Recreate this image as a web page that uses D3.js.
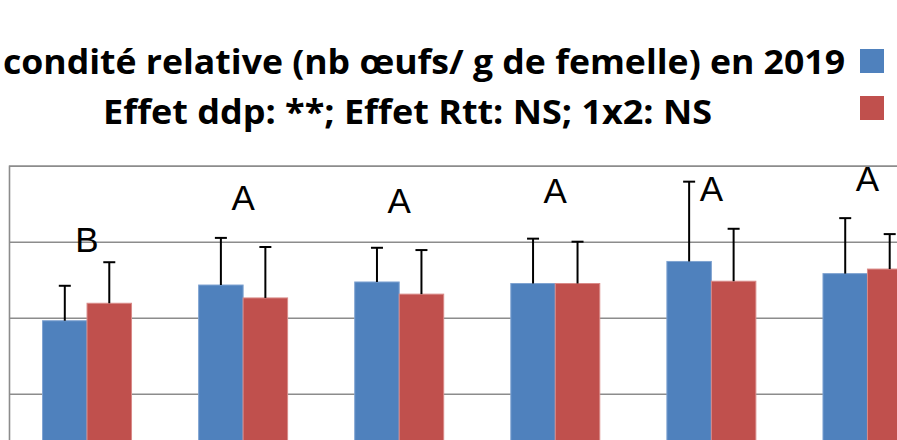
<!DOCTYPE html>
<html>
<head>
<meta charset="utf-8">
<script src="https://cdn.jsdelivr.net/npm/d3@7"></script>
<style>
  body { margin: 0; background: #fff; }
  svg { display: block; }
</style>
</head>
<body>
<div id="chart"></div>
<script>
// data (arbitrary units, gridline every 100)
var categories = ["T1", "T2", "T3", "T4", "T5", "T6"];
var seriesKeys = ["s1", "s2"];
var blueVals = [196, 243, 247, 245, 274, 258];
var redVals  = [219, 226, 231, 245, 248, 264];
var blueErr  = [46, 62, 45, 59, 105, 73];
var redErr   = [54, 67, 58, 55, 69, 46];
var letters  = ["B", "A", "A", "A", "A", "A"];
var letterVal = [286, 342, 338, 351, 353, 367];
var yTicks = [0, 100, 200, 300, 400];
var titleLines = ["condité relative (nb œufs/ g de femelle) en 2019",
                  "Effet ddp: **; Effet Rtt: NS; 1x2: NS"];

var colors = { s1: "#4F81BD", s2: "#C0504D" };
var edges  = { s1: "#7fa3d1", s2: "#d98a88" };

var W = 897, H = 440;
var svg = d3.select("#chart").append("svg")
  .attr("width", W).attr("height", H);

// the picture is a crop: plot starts at x=9 and runs past the right edge
var x0 = d3.scaleBand().domain(categories)
  .range([9, 945.5]).paddingInner(0.43).paddingOuter(0.215);
var x1 = d3.scaleBand().domain(seriesKeys).range([0, x0.bandwidth()]);
var y = d3.scaleLinear().domain([0, 400]).range([469.7, 165.7]);

// gridlines
svg.append("g")
  .attr("class", "grid")
  .attr("transform", "translate(9,0)")
  .call(d3.axisLeft(y).tickValues(yTicks).tickSize(-(945.5 - 9)).tickFormat(""))
  .call(function(g) {
    g.selectAll(".tick line").attr("stroke", "#8c8c8c").attr("stroke-width", 1.6);
    g.select(".domain").attr("stroke", "#8c8c8c").attr("stroke-width", 1.6);
  });

var rows = categories.map(function(c, i) {
  return { cat: c, i: i, vals: [
    { key: "s1", v: blueVals[i], e: blueErr[i] },
    { key: "s2", v: redVals[i],  e: redErr[i] }
  ]};
});

var grp = svg.selectAll(".grp").data(rows).enter().append("g")
  .attr("class", "grp")
  .attr("transform", function(d) { return "translate(" + x0(d.cat) + ",0)"; });

grp.selectAll("rect").data(function(d) { return d.vals; }).enter().append("rect")
  .attr("x", function(d) { return x1(d.key); })
  .attr("y", function(d) { return y(d.v); })
  .attr("width", x1.bandwidth())
  .attr("height", function(d) { return y(0) - y(d.v); })
  .attr("fill", function(d) { return colors[d.key]; })
  .attr("stroke", function(d) { return edges[d.key]; })
  .attr("stroke-width", 1);

// error bars (upper only)
var err = grp.selectAll(".err").data(function(d) { return d.vals; }).enter().append("g")
  .attr("class", "err")
  .attr("stroke", "#000").attr("stroke-width", 2);
err.append("line")
  .attr("x1", function(d) { return x1(d.key) + x1.bandwidth() / 2; })
  .attr("x2", function(d) { return x1(d.key) + x1.bandwidth() / 2; })
  .attr("y1", function(d) { return y(d.v); })
  .attr("y2", function(d) { return y(d.v + d.e); });
err.append("line")
  .attr("x1", function(d) { return x1(d.key) + x1.bandwidth() / 2 - 6; })
  .attr("x2", function(d) { return x1(d.key) + x1.bandwidth() / 2 + 6; })
  .attr("y1", function(d) { return y(d.v + d.e); })
  .attr("y2", function(d) { return y(d.v + d.e); });

// significance letters
grp.append("text")
  .attr("x", x0.bandwidth() / 2)
  .attr("y", function(d) { return y(letterVal[d.i]); })
  .attr("text-anchor", "middle")
  .attr("font-family", "'Liberation Sans', Arial, sans-serif")
  .attr("font-size", 35)
  .attr("fill", "#000")
  .text(function(d) { return letters[d.i]; });

// title (cut at the left in the original)
svg.append("text")
  .attr("x", 3).attr("y", 74)
  .attr("textLength", 842).attr("lengthAdjust", "spacingAndGlyphs")
  .attr("font-family", "'Open Sans', sans-serif")
  .attr("font-weight", "bold").attr("font-size", 34)
  .text(titleLines[0]);
svg.append("text")
  .attr("x", 103).attr("y", 124)
  .attr("textLength", 609).attr("lengthAdjust", "spacingAndGlyphs")
  .attr("font-family", "'Open Sans', sans-serif")
  .attr("font-weight", "bold").attr("font-size", 34)
  .text(titleLines[1]);

// legend swatches (labels are outside the crop)
svg.selectAll(".leg").data(seriesKeys).enter().append("rect")
  .attr("class", "leg")
  .attr("x", 860)
  .attr("y", function(d, i) { return 49 + i * 47; })
  .attr("width", 24).attr("height", 24)
  .attr("fill", function(d) { return colors[d]; });
</script>
</body>
</html>
